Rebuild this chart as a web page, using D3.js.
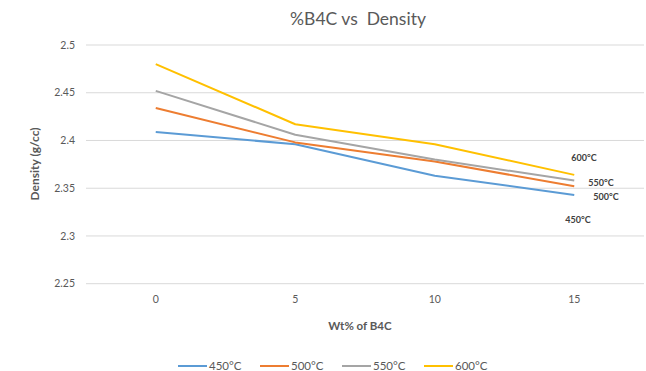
<!DOCTYPE html>
<html>
<head>
<meta charset="utf-8">
<script src="https://cdn.jsdelivr.net/npm/d3@7"></script>
<style>
  html, body { margin: 0; padding: 0; background: #fff; }
  svg { display: block; font-family: Lato, "Open Sans", sans-serif; }
</style>
</head>
<body>
<svg id="chart" width="646" height="371"></svg>
<script>
// Wt% of B4C added to the composite
const categories = ["0", "5", "10", "15"];
// Sintering temperature series
const seriesNames = ["450°C", "500°C", "550°C", "600°C"];
// Measured density (g/cc) per series
const density450 = [2.409, 2.396, 2.363, 2.343];
const density500 = [2.434, 2.398, 2.378, 2.352];
const density550 = [2.452, 2.406, 2.380, 2.358];
const density600 = [2.480, 2.417, 2.396, 2.364];
const yTicks = [2.25, 2.3, 2.35, 2.4, 2.45, 2.5];
const colors = ["#5b9bd5", "#ed7d31", "#a5a5a5", "#ffc000"];

(function draw() {
  const series = [density450, density500, density550, density600].map((v, i) => ({
    name: seriesNames[i], values: v, color: colors[i]
  }));

  const svg = d3.select("#chart");
  const plotLeft = 86, plotRight = 644, plotTop = 45, plotBottom = 283.7;

  const x = d3.scalePoint().domain(categories).range([plotLeft, plotRight]).padding(0.5);
  const y = d3.scaleLinear().domain([2.25, 2.5]).range([plotBottom, plotTop]);

  // Horizontal gridlines
  svg.append("g").selectAll("line").data(yTicks).join("line")
    .attr("x1", plotLeft).attr("x2", plotRight)
    .attr("y1", d => y(d)).attr("y2", d => y(d))
    .attr("stroke", "#d9d9d9").attr("stroke-width", 1);

  // Y tick labels
  svg.append("g").selectAll("text").data(yTicks).join("text")
    .attr("x", 75).attr("y", d => y(d)).attr("dy", "0.35em")
    .attr("text-anchor", "end").attr("font-size", 10.5).attr("fill", "#595959")
    .text(d => d3.format("")(d));

  // X tick labels
  svg.append("g").selectAll("text").data(categories).join("text")
    .attr("x", d => x(d)).attr("y", 303).attr("text-anchor", "middle")
    .attr("font-size", 10.5).attr("fill", "#595959")
    .text(d => d);

  // Series lines
  const line = d3.line().x((d, i) => x(categories[i])).y(d => y(d));
  svg.append("g").selectAll("path").data(series).join("path")
    .attr("d", d => line(d.values))
    .attr("fill", "none").attr("stroke", d => d.color)
    .attr("stroke-width", 2).attr("stroke-linejoin", "round");

  // Series labels at the last point
  const endOffsets = { "600°C": [-3, -14], "550°C": [14, 5], "500°C": [19, 14], "450°C": [-9, 28] };
  svg.append("g").selectAll("text").data(series).join("text")
    .attr("x", d => x(categories[3]) + endOffsets[d.name][0])
    .attr("y", d => y(d.values[3]) + endOffsets[d.name][1])
    .attr("font-size", 9).attr("font-weight", "bold").attr("fill", "#404040")
    .text(d => d.name);

  // Title
  svg.append("text").attr("x", 358).attr("y", 25).attr("text-anchor", "middle")
    .attr("font-size", 17.5).attr("fill", "#595959").attr("xml:space", "preserve")
    .text("%B4C vs  Density");

  // Axis titles
  svg.append("text").attr("x", 360).attr("y", 330).attr("text-anchor", "middle")
    .attr("font-size", 11.5).attr("font-weight", "bold").attr("fill", "#595959")
    .text("Wt% of B4C");
  svg.append("text").attr("transform", "translate(39,164) rotate(-90)")
    .attr("text-anchor", "middle").attr("font-size", 12).attr("font-weight", "bold")
    .attr("fill", "#595959").text("Density (g/cc)");

  // Legend
  const legend = svg.append("g").selectAll("g").data(series).join("g")
    .attr("transform", (d, i) => `translate(${178 + i * 82},366)`);
  legend.append("line").attr("x1", 0).attr("x2", 29).attr("y1", 0).attr("y2", 0)
    .attr("stroke", d => d.color).attr("stroke-width", 2);
  legend.append("text").attr("x", 31).attr("dy", "0.35em")
    .attr("font-size", 11.5).attr("fill", "#595959").text(d => d.name);
})();
</script>
</body>
</html>
